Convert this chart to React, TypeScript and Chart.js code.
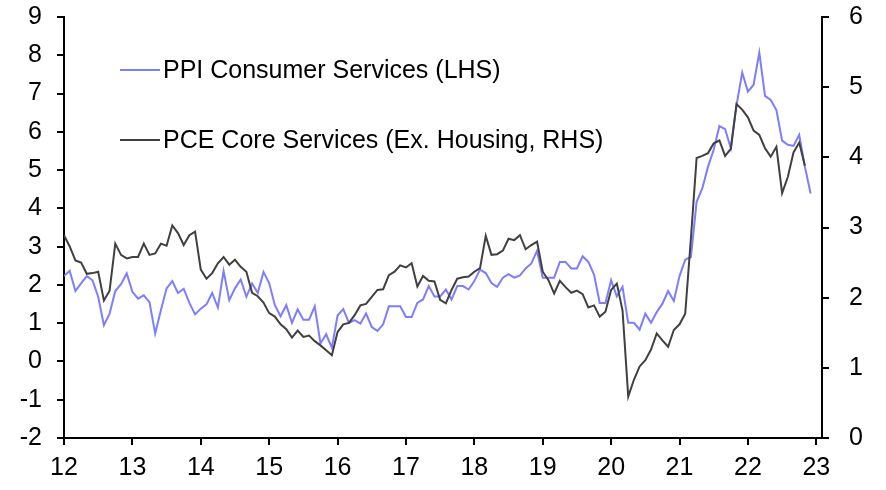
import { useEffect, useRef } from 'react'
import { Chart, registerables } from 'chart.js'

Chart.register(...registerables)

// x axis: months since Jan 2012, one tick per January
const firstYear = 12
const yearTicks = [0, 12, 24, 36, 48, 60, 72, 84, 96, 108, 120, 132]
const xMax = 133

// PPI Consumer Services, % y/y (LHS), Jan 2012 - Dec 2022
const ppiConsumerServices = [
  2.23, 2.37, 1.84, 2.04, 2.23, 2.12, 1.69, 0.95, 1.25, 1.84, 2.02, 2.3,
  1.82, 1.64, 1.73, 1.55, 0.73, 1.34, 1.91, 2.1, 1.79, 1.9, 1.53, 1.23,
  1.38, 1.49, 1.79, 1.41, 2.36, 1.6, 1.91, 2.14, 1.69, 2.04, 1.79, 2.34,
  2.05, 1.47, 1.18, 1.47, 1.01, 1.36, 1.09, 1.09, 1.44, 0.47, 0.71, 0.36,
  1.2, 1.37, 1.01, 1.08, 0.99, 1.25, 0.9, 0.8, 0.97, 1.44, 1.44, 1.44,
  1.16, 1.16, 1.53, 1.62, 1.97, 1.7, 1.7, 1.88, 1.62, 1.97, 1.97, 1.88,
  2.1, 2.4, 2.31, 2.05, 1.95, 2.19, 2.28, 2.19, 2.25, 2.43, 2.56, 2.89,
  2.19, 2.19, 2.19, 2.6, 2.6, 2.43, 2.43, 2.75, 2.6, 2.27, 1.53, 1.53,
  2.12, 1.7, 1.95, 1.01, 1.01, 0.83, 1.25, 1.01, 1.29, 1.51, 1.84, 1.58,
  2.23, 2.66, 2.73, 4.17, 4.52, 5.09, 5.53, 6.15, 6.07, 5.57, 6.7, 7.55,
  7.05, 7.23, 8.07, 6.94, 6.83, 6.57, 5.77, 5.66, 5.63, 5.92, 5.09, 4.39
]

// PCE Core Services ex. Housing, % y/y (RHS), Jan 2012 - Nov 2022
const pceCoreServicesExHousing = [
  2.89, 2.73, 2.53, 2.5, 2.34, 2.35, 2.37, 1.96, 2.1, 2.77, 2.61, 2.56,
  2.58, 2.58, 2.77, 2.61, 2.63, 2.77, 2.74, 3.03, 2.92, 2.75, 2.89, 2.94,
  2.4, 2.27, 2.35, 2.49, 2.58, 2.47, 2.54, 2.44, 2.37, 2.07, 2.02, 1.93,
  1.78, 1.73, 1.62, 1.55, 1.43, 1.53, 1.44, 1.46, 1.38, 1.32, 1.25, 1.18,
  1.51, 1.62, 1.64, 1.75, 1.89, 1.91, 2.01, 2.11, 2.12, 2.32, 2.37, 2.46,
  2.43, 2.49, 2.16, 2.31, 2.24, 2.23, 1.97, 1.92, 2.11, 2.27, 2.29, 2.3,
  2.37, 2.42, 2.88, 2.61, 2.62, 2.67, 2.84, 2.82, 2.89, 2.69, 2.75, 2.8,
  2.37, 2.25, 2.06, 2.24, 2.15, 2.07, 2.1, 2.05, 1.86, 1.89, 1.73, 1.8,
  2.11, 2.2, 1.82, 0.59, 0.83, 1.02, 1.11, 1.26, 1.49, 1.39, 1.3, 1.54,
  1.62, 1.77, 2.85, 3.99, 4.02, 4.06, 4.2, 4.24, 4.02, 4.12, 4.76, 4.68,
  4.57, 4.38, 4.32, 4.13, 4.01, 4.15, 3.49, 3.72, 4.07, 4.21, 3.88
]

const seriesNames = ['PPI Consumer Services (LHS)', 'PCE Core Services (Ex. Housing, RHS)']
const seriesColors = ['#7d7dff', '#404040']

const FONT = '"Liberation Sans", Arial, sans-serif'

const toPoints = (values: number[]) => values.map((v, i) => ({ x: i, y: v }))

// legend drawn inside the plot, top-left
const insideLegend = {
  id: 'insideLegend',
  afterDatasetsDraw(chart: any) {
    const { ctx, chartArea } = chart
    ctx.save()
    ctx.font = `25px ${FONT}`
    ctx.textBaseline = 'middle'
    ctx.textAlign = 'left'
    seriesNames.forEach((name, k) => {
      const x = chartArea.left + 56
      const y = chartArea.top + 53 + k * 70
      ctx.strokeStyle = seriesColors[k]
      ctx.lineWidth = 2
      ctx.beginPath()
      ctx.moveTo(x, y)
      ctx.lineTo(x + 40, y)
      ctx.stroke()
      ctx.fillStyle = '#000'
      ctx.fillText(name, x + 43, y + 1)
    })
    ctx.restore()
  }
}

const App = () => {
  const canvasRef = useRef<HTMLCanvasElement | null>(null)

  useEffect(() => {
    document.body.style.margin = '0'
    const ctx = canvasRef.current?.getContext('2d')
    if (!ctx) return

    const axisTicks = { color: '#000', font: { family: FONT, size: 25 } }
    const axisGrid = { drawOnChartArea: false, drawTicks: true, tickLength: 7, color: '#000', lineWidth: 2 }
    const axisBorder = { display: true, color: '#000', width: 2 }
    // keep the tick-label overhang from pushing the plot area around
    const fixWidth = (scale: any) => {
      scale.width = 64
      scale.paddingTop = 0
      scale.paddingBottom = 0
    }

    const chart = new Chart(ctx, {
      type: 'line',
      data: {
        datasets: [
          {
            label: seriesNames[1],
            data: toPoints(pceCoreServicesExHousing),
            borderColor: seriesColors[1],
            borderWidth: 2,
            pointRadius: 0,
            tension: 0,
            yAxisID: 'y1'
          },
          {
            label: seriesNames[0],
            data: toPoints(ppiConsumerServices),
            borderColor: seriesColors[0],
            borderWidth: 2,
            pointRadius: 0,
            tension: 0,
            yAxisID: 'y'
          }
        ]
      },
      options: {
        animation: false,
        responsive: true,
        maintainAspectRatio: false,
        layout: { padding: { top: 17, left: 0, right: 0, bottom: 0 } },
        plugins: {
          legend: { display: false },
          tooltip: { enabled: false }
        },
        scales: {
          x: {
            type: 'linear',
            min: 0,
            max: xMax,
            grid: axisGrid,
            border: axisBorder,
            ticks: {
              ...axisTicks,
              padding: 8,
              maxRotation: 0,
              autoSkip: false,
              callback: (value: any) => String(firstYear + Number(value) / 12)
            },
            afterBuildTicks: (scale: any) => {
              scale.ticks = yearTicks.map((v) => ({ value: v }))
            },
            afterFit: (scale: any) => {
              scale.height = 52
              scale.paddingLeft = 0
              scale.paddingRight = 0
            }
          },
          y: {
            type: 'linear',
            position: 'left',
            min: -2,
            max: 9,
            grid: axisGrid,
            border: axisBorder,
            ticks: { ...axisTicks, stepSize: 1, padding: 15 },
            afterFit: fixWidth
          },
          y1: {
            type: 'linear',
            position: 'right',
            min: 0,
            max: 6,
            grid: axisGrid,
            border: axisBorder,
            ticks: { ...axisTicks, stepSize: 1, padding: 20 },
            afterFit: fixWidth
          }
        }
      },
      plugins: [insideLegend]
    })

    return () => {
      chart.destroy()
    }
  }, [])

  return (
    <div style={{ position: 'relative', width: 886, height: 490 }}>
      <canvas ref={canvasRef} />
    </div>
  )
}

export default App
